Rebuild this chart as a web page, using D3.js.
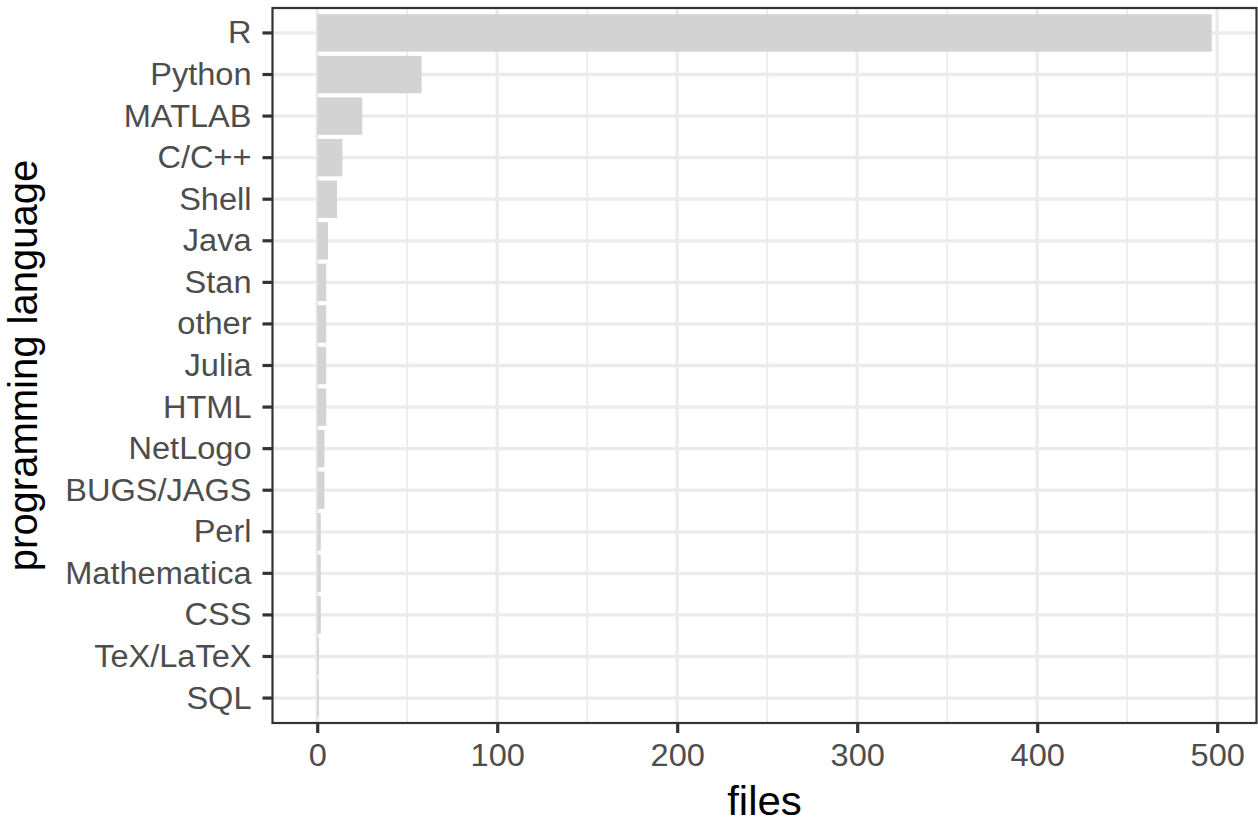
<!DOCTYPE html>
<html>
<head>
<meta charset="utf-8">
<script src="https://cdn.jsdelivr.net/npm/d3@7"></script>
<style>
  html, body { margin: 0; padding: 0; background: #ffffff; }
  svg { display: block; }
</style>
</head>
<body>
<svg id="chart" width="1258" height="823"></svg>
<script>
const categories = ["R", "Python", "MATLAB", "C/C++", "Shell", "Java", "Stan", "other", "Julia", "HTML", "NetLogo", "BUGS/JAGS", "Perl", "Mathematica", "CSS", "TeX/LaTeX", "SQL"];
const files = [497, 58, 25, 14, 11, 6, 5, 5, 5, 5, 4, 4, 2, 2, 2, 1, 1];
const xMajorTicks = [0, 100, 200, 300, 400, 500];
const xMinorTicks = [50, 150, 250, 350, 450];
const xTitle = "files";
const yTitle = "programming language";

const svg = d3.select("#chart");
const panel = { left: 272.5, right: 1256.5, top: 8, bottom: 723 };
const FONT = "'Liberation Sans', Arial, Helvetica, sans-serif";

const maxV = d3.max(files);
const x = d3.scaleLinear()
  .domain([-0.05 * maxV, maxV * 1.05])
  .range([panel.left, panel.right]);

const y = d3.scaleBand()
  .domain(categories)
  .range([panel.top, panel.bottom])
  .paddingInner(0.1)
  .paddingOuter(0.15);

const tickFont = 31;
const stretch = 1.05;
const titleFont = 40;

svg.append("rect")
  .attr("x", panel.left).attr("y", panel.top)
  .attr("width", panel.right - panel.left).attr("height", panel.bottom - panel.top)
  .attr("fill", "#ffffff");

const grid = svg.append("g");
grid.selectAll("line.minor").data(xMinorTicks).join("line")
  .attr("x1", d => x(d)).attr("x2", d => x(d))
  .attr("y1", panel.top).attr("y2", panel.bottom)
  .attr("stroke", "#EBEBEB").attr("stroke-width", 1.7);
grid.selectAll("line.majx").data(xMajorTicks).join("line")
  .attr("x1", d => x(d)).attr("x2", d => x(d))
  .attr("y1", panel.top).attr("y2", panel.bottom)
  .attr("stroke", "#EBEBEB").attr("stroke-width", 3.3);
grid.selectAll("line.majy").data(categories).join("line")
  .attr("x1", panel.left).attr("x2", panel.right)
  .attr("y1", d => y(d) + y.bandwidth() / 2).attr("y2", d => y(d) + y.bandwidth() / 2)
  .attr("stroke", "#EBEBEB").attr("stroke-width", 3.3);

svg.append("g").selectAll("rect").data(categories).join("rect")
  .attr("x", x(0))
  .attr("y", d => y(d))
  .attr("width", (d, i) => x(files[i]) - x(0))
  .attr("height", y.bandwidth())
  .attr("fill", "#D3D3D3");

svg.append("rect")
  .attr("x", panel.left).attr("y", panel.top)
  .attr("width", panel.right - panel.left).attr("height", panel.bottom - panel.top)
  .attr("fill", "none").attr("stroke", "#333333").attr("stroke-width", 2.2);

// y axis
const yAxis = d3.axisLeft(y).tickSize(10).tickPadding(11);
const gy = svg.append("g").attr("transform", `translate(${panel.left},0)`).call(yAxis);
gy.select(".domain").remove();
gy.selectAll(".tick line").attr("stroke", "#333333").attr("stroke-width", 3.2);
gy.selectAll(".tick text")
  .attr("fill", "#4D4D4D")
  .attr("font-family", FONT)
  .attr("font-size", tickFont)
  .attr("x", -21 / stretch)
  .attr("transform", `scale(${stretch},1)`)
  .attr("dy", "0.34em");

// x axis
const xAxis = d3.axisBottom(x).tickValues(xMajorTicks).tickSize(10).tickPadding(11);
const gx = svg.append("g").attr("transform", `translate(0,${panel.bottom})`).call(xAxis);
gx.select(".domain").remove();
gx.selectAll(".tick line").attr("stroke", "#333333").attr("stroke-width", 3.2);
gx.selectAll(".tick text")
  .attr("fill", "#4D4D4D")
  .attr("font-family", FONT)
  .attr("font-size", tickFont)
  .attr("transform", `scale(${stretch},1)`);

// axis titles
svg.append("text")
  .attr("transform", `translate(${(panel.left + panel.right) / 2},815) scale(${stretch},1)`)
  .attr("text-anchor", "middle")
  .attr("font-family", FONT)
  .attr("font-size", titleFont)
  .attr("fill", "#000000")
  .text(xTitle);

svg.append("text")
  .attr("transform", `translate(37,${(panel.top + panel.bottom) / 2}) rotate(-90)`)
  .attr("text-anchor", "middle")
  .attr("font-family", FONT)
  .attr("font-size", titleFont)
  .attr("fill", "#000000")
  .text(yTitle);
</script>
</body>
</html>
